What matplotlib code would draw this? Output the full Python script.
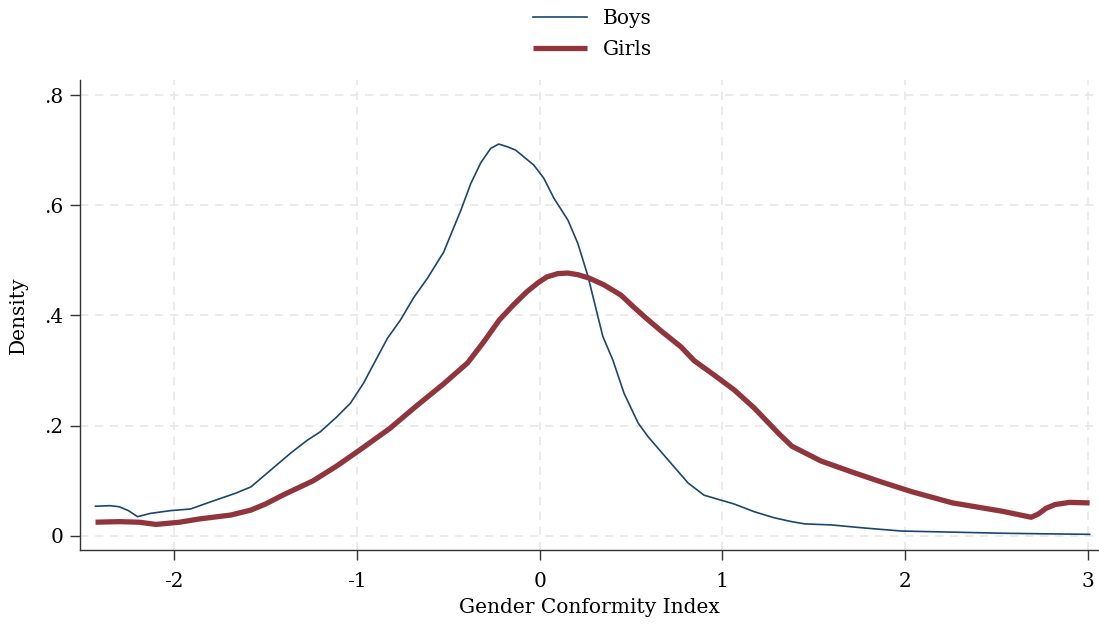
import matplotlib
matplotlib.use("Agg")
import matplotlib.pyplot as plt

# kernel density estimates
boys_x = [-2.43, -2.35, -2.30, -2.25, -2.20, -2.13, -2.02, -1.91, -1.80, -1.66,
          -1.58, -1.47, -1.36, -1.27, -1.20, -1.11, -1.035, -0.964, -0.887, -0.832,
          -0.761, -0.690, -0.613, -0.525, -0.432, -0.377, -0.322, -0.268, -0.224, -0.175,
          -0.131, -0.087, -0.032, 0.023, 0.078, 0.155, 0.209, 0.264, 0.346, 0.401,
          0.462, 0.539, 0.594, 0.703, 0.813, 0.900, 0.993, 1.065, 1.175, 1.284,
          1.38, 1.45, 1.60, 1.76, 1.98, 2.26, 2.53, 2.75, 3.01]
boys_y = [0.054, 0.055, 0.053, 0.046, 0.035, 0.041, 0.046, 0.049, 0.062, 0.078,
          0.089, 0.120, 0.151, 0.174, 0.189, 0.216, 0.241, 0.277, 0.325, 0.359,
          0.392, 0.432, 0.468, 0.515, 0.590, 0.639, 0.677, 0.703, 0.711, 0.706,
          0.700, 0.688, 0.673, 0.649, 0.613, 0.573, 0.531, 0.472, 0.362, 0.319,
          0.259, 0.205, 0.180, 0.138, 0.096, 0.074, 0.065, 0.058, 0.044, 0.033,
          0.026, 0.022, 0.020, 0.015, 0.009, 0.007, 0.005, 0.004, 0.003]

girls_x = [-2.43, -2.30, -2.19, -2.10, -1.97, -1.86, -1.69, -1.58, -1.50, -1.40,
           -1.24, -1.11, -0.98, -0.82, -0.67, -0.525, -0.394, -0.306, -0.22, -0.141,
           -0.07, -0.01, 0.04, 0.10, 0.155, 0.21, 0.27, 0.35, 0.445, 0.516,
           0.58, 0.665, 0.774, 0.846, 0.955, 1.065, 1.175, 1.311, 1.38, 1.54,
           1.71, 1.87, 2.04, 2.26, 2.53, 2.69, 2.73, 2.77, 2.82, 2.90,
           3.01]
girls_y = [0.025, 0.026, 0.025, 0.021, 0.025, 0.031, 0.038, 0.047, 0.058, 0.075,
           0.100, 0.127, 0.157, 0.195, 0.237, 0.276, 0.314, 0.352, 0.392, 0.420,
           0.443, 0.459, 0.470, 0.476, 0.477, 0.474, 0.468, 0.456, 0.437, 0.415,
           0.396, 0.372, 0.343, 0.318, 0.292, 0.265, 0.232, 0.185, 0.163, 0.136,
           0.116, 0.098, 0.080, 0.060, 0.045, 0.034, 0.040, 0.050, 0.057, 0.061,
           0.060]

x_ticks = [-2, -1, 0, 1, 2, 3]
y_ticks = [0, 0.2, 0.4, 0.6, 0.8]
y_labels = ["0", ".2", ".4", ".6", ".8"]

plt.rcParams['font.family'] = ['DejaVu Serif']

fig = plt.figure(figsize=(10.99, 6.24), dpi=100)
ax = fig.add_axes([0.0728, 0.1186, 0.927, 0.753])

ax.plot(boys_x, boys_y, color='#1a476f', lw=1.2, label='Boys',
        solid_joinstyle='round')
ax.plot(girls_x, girls_y, color='#90353b', lw=3.8, label='Girls',
        solid_capstyle='butt', solid_joinstyle='round')

ax.set_xlim(-2.515, 3.06)
ax.set_ylim(-0.0254, 0.827)
ax.set_xticks(x_ticks)
ax.set_xticklabels([str(t) for t in x_ticks])
ax.set_yticks(y_ticks)
ax.set_yticklabels(y_labels)

ax.grid(True, color='#e8e8e8', linestyle=(0, (5, 4)), lw=1.2)
ax.set_axisbelow(True)
for s in ['top', 'right']:
    ax.spines[s].set_visible(False)
for s in ['left', 'bottom']:
    ax.spines[s].set_color('#333333')
    ax.spines[s].set_linewidth(1.0)
ax.tick_params(direction='out', length=7, width=1, color='#333333',
               labelsize=14.5)
ax.tick_params(axis='x', pad=9)
ax.tick_params(axis='y', pad=5)

ax.set_xlabel('Gender Conformity Index', fontsize=14.5, labelpad=5)
ax.set_ylabel('Density', fontsize=14.5, labelpad=12)

fig.legend(loc='upper center', bbox_to_anchor=(0.539, 1.014), ncol=1,
           frameon=False, fontsize=14.5, handlelength=2.7, handletextpad=0.8,
           labelspacing=0.6)

fig.savefig('out.png', dpi=100)
